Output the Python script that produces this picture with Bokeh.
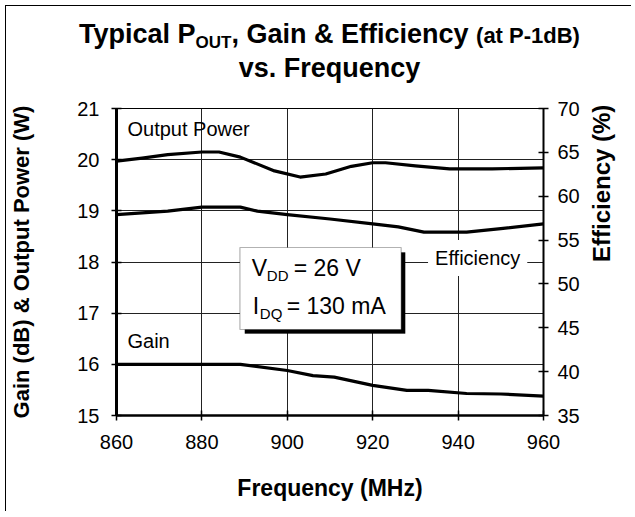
import math
from bokeh.plotting import figure
from bokeh.layouts import column
from bokeh.models import Range1d, LinearAxis, FixedTicker, Label, BoxAnnotation, Div
from bokeh.embed import file_html
from bokeh.resources import INLINE

# ---------------- data ----------------
freq_pout = [860, 866, 872, 880, 884, 889, 897, 903, 909, 915, 920, 923, 930, 938, 948, 960]
pout_w = [19.97, 20.03, 20.10, 20.15, 20.15, 20.05, 19.78, 19.66, 19.72, 19.87, 19.94, 19.94, 19.88, 19.82, 19.82, 19.84]

freq_eff = [860, 872, 880, 889, 893, 900, 910, 920, 926, 932, 942, 950, 960]
eff_pct = [57.9, 58.3, 58.75, 58.75, 58.3, 57.9, 57.4, 56.85, 56.5, 55.9, 55.9, 56.3, 56.85]

freq_gain = [860, 870, 880, 889, 900, 906, 911, 920, 928, 933, 942, 950, 960]
gain_db = [16.0, 16.0, 16.0, 16.0, 15.88, 15.78, 15.75, 15.59, 15.49, 15.49, 15.43, 15.42, 15.38]

x_ticks = [860, 880, 900, 920, 940, 960]
left_ticks = [15, 16, 17, 18, 19, 20, 21]
right_ticks = [35, 40, 45, 50, 55, 60, 65, 70]

# ---------------- layout ----------------
ORG = 6                     # page position of the content's top-left corner
W = 625
TITLE_H = 90
PH = 415                    # plot height
PTOP = ORG + TITLE_H        # page y of plot canvas top
ML, MR = 108, 88
MT = 12
FW = W - ML - MR            # 429
FH = 307
MB = PH - MT - FH
X0, X1 = 860, 960
Y0, Y1 = 15, 21
E0, E1 = 35, 70
FONT = "Liberation Sans"


def X(page_x):
    return X0 + (X1 - X0) * (page_x - ORG - ML) / FW


def Y(page_y):
    return Y1 - (Y1 - Y0) * (page_y - PTOP - MT) / FH


# ---------------- title (HTML, with subscripts) ----------------
title_html = (
    f'<div style="position:relative;left:11px;width:{W}px;padding-top:12px;text-align:center;'
    f'font-family:\'{FONT}\';font-weight:bold;font-size:27px;line-height:32px;color:#000;">'
    'Typical P<span style="font-size:17px;vertical-align:-5px;line-height:0;">OUT</span>, '
    'Gain &amp; Efficiency <span style="font-size:22px;">(at P-1dB)</span><br>vs. Frequency</div>'
)
title = Div(text=title_html, width=W, height=TITLE_H, margin=(0, 0, 0, 0))

p = figure(width=W, height=PH, output_backend="svg", toolbar_location=None,
           x_range=Range1d(X0, X1), y_range=Range1d(Y0, Y1),
           min_border_left=ML, min_border_right=MR, min_border_top=MT, min_border_bottom=MB,
           background_fill_color="white", border_fill_color="white", margin=(0, 0, 0, 0))
p.outline_line_color = "black"
p.outline_line_width = 1

p.extra_y_ranges = {"eff": Range1d(E0, E1)}


def style_axis(ax, lw):
    ax.major_label_text_font = FONT
    ax.major_label_text_font_size = "20px"
    ax.major_label_text_color = "black"
    ax.axis_line_color = "black"
    ax.axis_line_width = lw
    ax.major_tick_line_color = "black"
    ax.major_tick_line_width = 1.5
    ax.major_tick_in = 5
    ax.major_tick_out = 5
    ax.minor_tick_line_color = None
    ax.axis_label_text_font = FONT
    ax.axis_label_text_font_size = "24px"
    ax.axis_label_text_font_style = "bold"
    ax.axis_label_text_color = "black"


xa, ya = p.xaxis[0], p.yaxis[0]
style_axis(xa, 2.5)
style_axis(ya, 3)
xa.ticker = FixedTicker(ticks=x_ticks)
ya.ticker = FixedTicker(ticks=left_ticks)
xa.major_label_standoff = 14
ya.major_label_standoff = 12
xa.axis_label = "Frequency (MHz)"
xa.axis_label_text_font_size = "23px"
xa.axis_label_standoff = 23
ya.axis_label = "Gain (dB) & Output Power (W)"
ya.axis_label_text_font_size = "22px"
ya.axis_label_standoff = 40

ax_r = LinearAxis(y_range_name="eff", ticker=FixedTicker(ticks=right_ticks))
style_axis(ax_r, 2)
ax_r.major_label_standoff = 9
ax_r.axis_label = "Efficiency (%)"
ax_r.axis_label_standoff = 19
if "axis_label_orientation" in ax_r.properties():
    ax_r.axis_label_orientation = math.pi / 2
p.add_layout(ax_r, "right")

# grid
p.xgrid.ticker = FixedTicker(ticks=x_ticks)
p.ygrid.ticker = FixedTicker(ticks=left_ticks)
p.xgrid.grid_line_color = "#222222"
p.ygrid.grid_line_color = "#222222"
p.xgrid.grid_line_width = 1
p.ygrid.grid_line_width = 1

# data lines
p.line(freq_pout, pout_w, line_color="black", line_width=3.2, line_join="round")
p.line(freq_gain, gain_db, line_color="black", line_width=3.2, line_join="round")
p.line(freq_eff, eff_pct, y_range_name="eff", line_color="black", line_width=3.2, line_join="round")


def lab(page_x, page_base, text, size, **kw):
    # place by alphabetic baseline (converted to the em-box middle)
    p.add_layout(Label(x=X(page_x), y=Y(page_base - 0.32 * size), text=text, text_font=FONT,
                       text_font_size=f"{size}px", text_color="black",
                       text_align="left", text_baseline="middle", **kw))


# curve labels
lab(125, 135, "Output Power", 20)
lab(125, 347, "Gain", 20)
lab(427, 264, "Efficiency", 20,
    background_fill_color="white", background_fill_alpha=1.0, padding=7)

# conditions box with shadow
p.add_layout(BoxAnnotation(left=X(243), right=X(404), top=Y(252), bottom=Y(333),
                           fill_color="black", fill_alpha=1.0, line_color="black", line_width=1,
                           level="annotation"))
p.add_layout(BoxAnnotation(left=X(238), right=X(400), top=Y(247), bottom=Y(329),
                           fill_color="white", fill_alpha=1.0, line_color="black", line_width=1.2,
                           level="annotation"))
lab(250, 275, "V", 23)
lab(265, 280, "DD", 15)
lab(292, 275, "= 26 V", 23)
lab(251, 313, "I", 23)
lab(258, 318, "DQ", 15)
lab(285, 313, "= 130 mA", 23)

layout = column(title, p, spacing=0,
                styles={"margin-left": f"{ORG - 1}px", "margin-top": f"{ORG - 1}px",
                        "border-left": "1px solid #000", "border-top": "1px solid #000"})

open("out.html", "w").write(file_html(layout, INLINE))
